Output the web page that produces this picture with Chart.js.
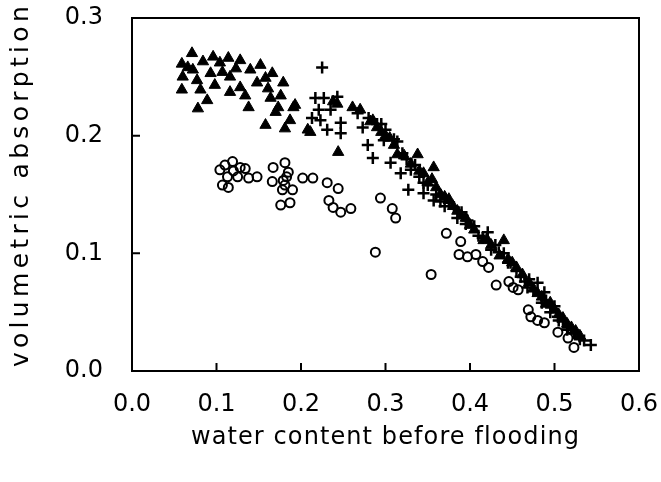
<!DOCTYPE html>
<html>
<head>
<meta charset="utf-8">
<script src="https://cdn.jsdelivr.net/npm/chart.js@4.4.1/dist/chart.umd.min.js"></script>
<style>
  html, body { margin: 0; padding: 0; background: #fff; overflow: hidden; }
  #wrap { width: 661px; height: 482px; position: relative; }
  canvas { display: block; }
  #box { position: absolute; border: 2px solid #000; box-sizing: border-box; pointer-events: none; }
</style>
</head>
<body>
<div id="wrap"><canvas id="chart"></canvas><div id="box"></div></div>
<script>
// axis ticks
const xTicks = [0.0, 0.1, 0.2, 0.3, 0.4, 0.5, 0.6];
const yTicks = [0.0, 0.1, 0.2, 0.3];

// filled triangles
const triX = [0.071, 0.059, 0.072, 0.096, 0.114, 0.128, 0.104, 0.140, 0.152, 0.166,
  0.060, 0.077, 0.093, 0.116, 0.098, 0.128, 0.148, 0.059, 0.116, 0.179,
  0.164, 0.089, 0.078, 0.138, 0.173, 0.191, 0.170, 0.187, 0.158, 0.181,
  0.208, 0.193, 0.211, 0.244, 0.261, 0.282, 0.314, 0.338, 0.357, 0.066,
  0.084, 0.107, 0.123, 0.158, 0.134, 0.161, 0.176, 0.081, 0.238, 0.243,
  0.270, 0.290, 0.300, 0.310, 0.330, 0.340, 0.350, 0.360, 0.370, 0.380,
  0.390, 0.400, 0.416, 0.440, 0.420, 0.450, 0.470, 0.480, 0.490, 0.500,
  0.510, 0.520, 0.530, 0.285, 0.295, 0.305, 0.322, 0.345, 0.355, 0.365,
  0.375, 0.385, 0.395, 0.405, 0.425, 0.435, 0.445, 0.455, 0.462, 0.475,
  0.485, 0.495, 0.505, 0.515, 0.525];
const triY = [0.270, 0.261, 0.256, 0.267, 0.266, 0.264, 0.262, 0.256, 0.260, 0.253,
  0.250, 0.247, 0.253, 0.250, 0.243, 0.241, 0.245, 0.239, 0.237, 0.245,
  0.232, 0.230, 0.223, 0.224, 0.224, 0.224, 0.220, 0.213, 0.209, 0.206,
  0.205, 0.226, 0.203, 0.186, 0.224, 0.212, 0.184, 0.184, 0.173, 0.258,
  0.263, 0.254, 0.257, 0.249, 0.234, 0.240, 0.234, 0.239, 0.229, 0.227,
  0.222, 0.207, 0.200, 0.192, 0.176, 0.170, 0.160, 0.156, 0.148, 0.140,
  0.132, 0.124, 0.111, 0.111, 0.112, 0.092, 0.075, 0.066, 0.057, 0.052,
  0.045, 0.037, 0.030, 0.213, 0.203, 0.198, 0.183, 0.168, 0.163, 0.150,
  0.146, 0.136, 0.130, 0.120, 0.107, 0.098, 0.095, 0.088, 0.082, 0.070,
  0.063, 0.058, 0.048, 0.040, 0.034];

// plus signs
const plusX = [0.225, 0.217, 0.227, 0.243, 0.213, 0.223, 0.231, 0.247, 0.247, 0.235,
  0.221, 0.267, 0.273, 0.279, 0.285, 0.306, 0.314, 0.298, 0.327, 0.345,
  0.357, 0.330, 0.318, 0.434, 0.448, 0.460, 0.488, 0.496, 0.516, 0.543,
  0.535, 0.421, 0.365, 0.397, 0.381, 0.480, 0.468, 0.504, 0.523, 0.290,
  0.300, 0.320, 0.335, 0.340, 0.350, 0.370, 0.390, 0.405, 0.410, 0.430,
  0.440, 0.455, 0.470, 0.490, 0.500, 0.510, 0.525, 0.280, 0.295, 0.310,
  0.325, 0.345, 0.360, 0.375, 0.385, 0.395, 0.415, 0.425, 0.445, 0.465,
  0.475, 0.485, 0.495, 0.505, 0.515, 0.530];
const plusY = [0.258, 0.232, 0.232, 0.233, 0.215, 0.213, 0.205, 0.211, 0.202, 0.222,
  0.222, 0.219, 0.207, 0.192, 0.181, 0.177, 0.195, 0.196, 0.154, 0.151,
  0.145, 0.171, 0.168, 0.101, 0.092, 0.080, 0.067, 0.054, 0.037, 0.022,
  0.026, 0.118, 0.144, 0.128, 0.139, 0.075, 0.071, 0.046, 0.032, 0.210,
  0.205, 0.185, 0.175, 0.165, 0.158, 0.140, 0.135, 0.123, 0.115, 0.107,
  0.100, 0.085, 0.078, 0.060, 0.055, 0.042, 0.033, 0.215, 0.210, 0.197,
  0.180, 0.160, 0.150, 0.143, 0.130, 0.125, 0.113, 0.103, 0.092, 0.076,
  0.068, 0.058, 0.050, 0.043, 0.035, 0.027];

// open circles
const circX = [0.104, 0.110, 0.119, 0.128, 0.134, 0.148, 0.138, 0.107, 0.114, 0.113,
  0.125, 0.167, 0.181, 0.185, 0.166, 0.179, 0.178, 0.190, 0.176, 0.187,
  0.202, 0.214, 0.231, 0.244, 0.233, 0.238, 0.247, 0.259, 0.294, 0.308,
  0.312, 0.288, 0.354, 0.372, 0.389, 0.387, 0.397, 0.407, 0.415, 0.422,
  0.431, 0.446, 0.451, 0.457, 0.469, 0.472, 0.480, 0.488, 0.504, 0.516,
  0.523, 0.120, 0.183, 0.181];
const circY = [0.171, 0.175, 0.178, 0.173, 0.172, 0.165, 0.164, 0.158, 0.156, 0.165,
  0.165, 0.173, 0.177, 0.169, 0.161, 0.162, 0.154, 0.154, 0.141, 0.143,
  0.164, 0.164, 0.160, 0.155, 0.145, 0.139, 0.135, 0.138, 0.147, 0.138,
  0.130, 0.101, 0.082, 0.117, 0.110, 0.099, 0.097, 0.099, 0.093, 0.088,
  0.073, 0.076, 0.071, 0.069, 0.052, 0.046, 0.043, 0.041, 0.033, 0.028,
  0.020, 0.170, 0.165, 0.158];

const FONT = '"DejaVu Sans", sans-serif';

function pts(xs, ys) {
  return xs.map((x, i) => ({ x: x, y: ys[i] }));
}

// axis titles first, then top/right frame and inward ticks on top
const framePlugin = {
  id: 'frame',
  beforeDraw(chart) {
    const { ctx, chartArea: a } = chart;
    ctx.save();
    ctx.fillStyle = '#000';
    ctx.textAlign = 'center';
    ctx.textBaseline = 'middle';
    ctx.font = '24px ' + FONT;
    ctx.letterSpacing = '1.1px';
    ctx.fillText('water content before flooding', (a.left + a.right) / 2, 438);
    ctx.restore();
    ctx.save();
    ctx.fillStyle = '#000';
    ctx.textAlign = 'center';
    ctx.textBaseline = 'middle';
    ctx.translate(21, (a.top + a.bottom) / 2 - 10);
    ctx.rotate(-Math.PI / 2);
    ctx.letterSpacing = '4.3px';
    ctx.font = '25px ' + FONT;
    ctx.fillText('volumetric absorption', 0, 0);
    ctx.restore();
  },
  afterDraw(chart) {
    const { ctx, chartArea: a, scales } = chart;
    ctx.save();
    ctx.strokeStyle = '#000';
    ctx.lineWidth = 2;
    ctx.beginPath();
    ctx.moveTo(a.left - 1, a.top);
    ctx.lineTo(a.right, a.top);
    ctx.lineTo(a.right, a.bottom + 1);
    xTicks.forEach(v => {
      const px = scales.x.getPixelForValue(v);
      ctx.moveTo(px, a.bottom);
      ctx.lineTo(px, a.bottom - 8);
    });
    yTicks.forEach(v => {
      const py = scales.y.getPixelForValue(v);
      ctx.moveTo(a.left, py);
      ctx.lineTo(a.left + 8, py);
    });
    ctx.stroke();
    ctx.restore();

    // keep the html box in line with the chart area
    const box = document.getElementById('box');
    box.style.left = (a.left - 1) + 'px';
    box.style.top = (a.top - 1) + 'px';
    box.style.width = (a.right - a.left + 2) + 'px';
    box.style.height = (a.bottom - a.top + 2) + 'px';
  }
};

new Chart(document.getElementById('chart'), {
  type: 'scatter',
  data: {
    datasets: [
      {
        label: 'triangles',
        data: pts(triX, triY),
        pointStyle: 'triangle',
        radius: 6.5,
        backgroundColor: '#000',
        borderColor: '#000',
        borderWidth: 1
      },
      {
        label: 'plus',
        data: pts(plusX, plusY),
        pointStyle: 'cross',
        radius: 6,
        backgroundColor: '#000',
        borderColor: '#000',
        borderWidth: 2.5
      },
      {
        label: 'circles',
        data: pts(circX, circY),
        pointStyle: 'circle',
        radius: 4.5,
        backgroundColor: 'rgba(0,0,0,0)',
        borderColor: '#000',
        borderWidth: 2
      }
    ]
  },
  options: {
    responsive: true,
    maintainAspectRatio: false,
    animation: false,
    layout: { padding: { top: 18, right: 22, left: 0, bottom: 0 } },
    plugins: {
      legend: { display: false },
      tooltip: { enabled: false }
    },
    scales: {
      x: {
        type: 'linear',
        min: 0,
        max: 0.6,
        afterFit: s => {
          s.height = 111;
          s.paddingLeft = 0;
          s.paddingRight = 0;
        },
        afterBuildTicks: s => { s.ticks = xTicks.map(v => ({ value: v })); },
        grid: { display: false },
        border: { display: true, color: '#000', width: 2 },
        ticks: {
          padding: 11,
          color: '#000',
          font: { family: FONT, size: 24 },
          maxRotation: 0,
          callback: v => v.toFixed(1)
        }
      },
      y: {
        type: 'linear',
        min: 0,
        max: 0.3,
        afterFit: s => {
          s.width = 132;
          s.paddingTop = 0;
          s.paddingBottom = 0;
        },
        afterBuildTicks: s => { s.ticks = yTicks.map(v => ({ value: v })); },
        grid: { display: false },
        border: { display: true, color: '#000', width: 2 },
        ticks: {
          padding: 21,
          color: '#000',
          font: { family: FONT, size: 24 },
          callback: v => v.toFixed(1)
        }
      }
    }
  },
  plugins: [framePlugin]
});
</script>
</body>
</html>
